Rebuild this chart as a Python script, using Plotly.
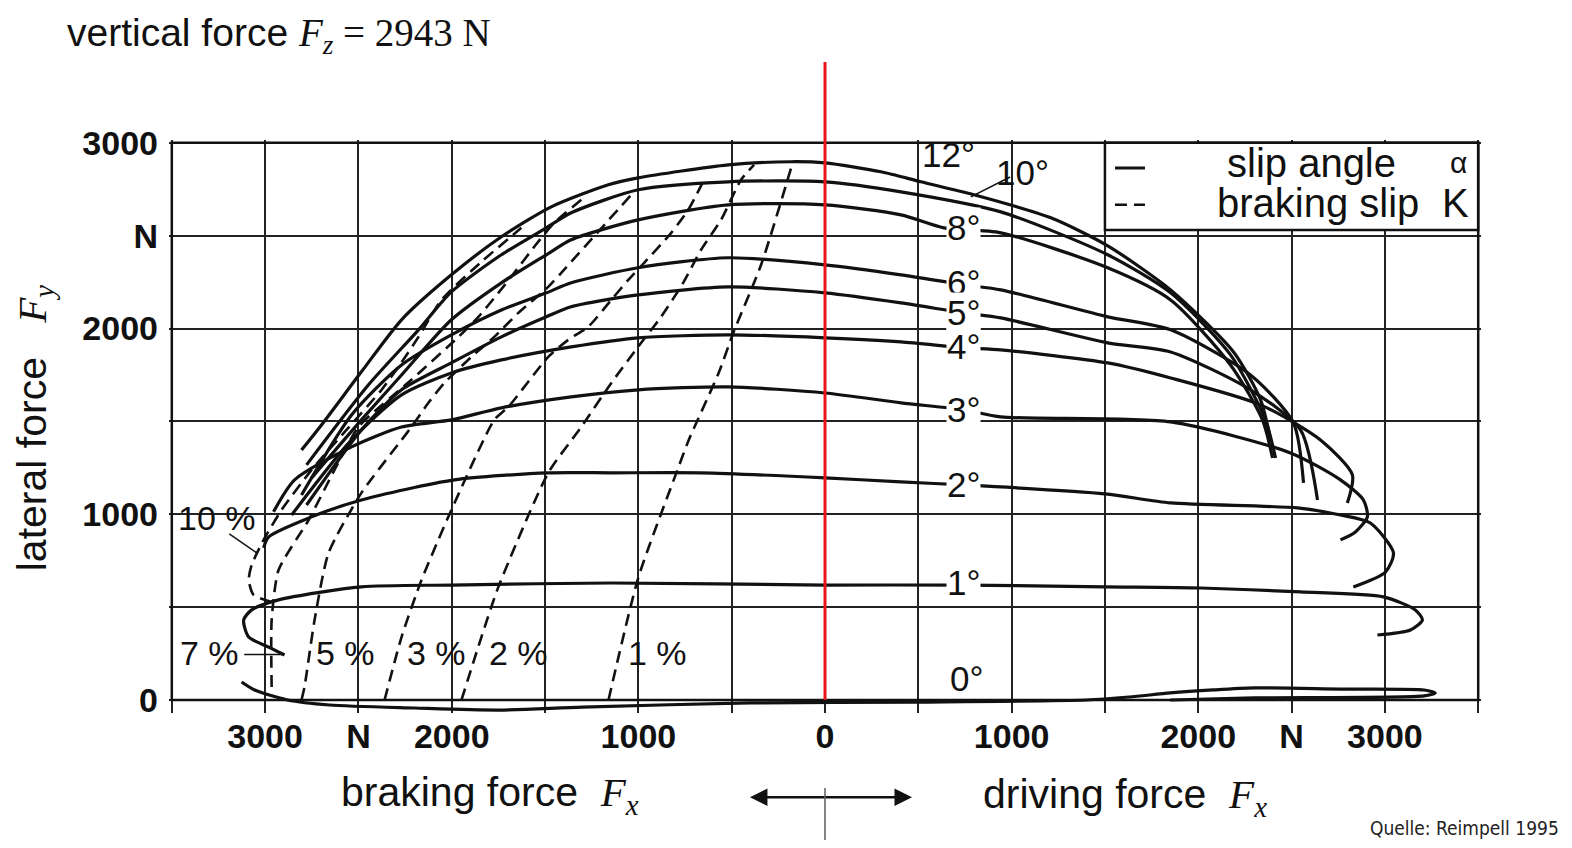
import plotly.graph_objects as go

# ---------------- data ----------------
# slip angle curves (solid): lateral force Fy vs longitudinal force Fx [N]
a0_x = [-3126, -3056, -2880, -2655, -2200, -1750, -1300, -400, 500, 1400, 1630, 1850, 2080, 2300, 2760, 3210, 3270, 3210, 2300, 1850]
a0_y = [97, 54, 0, -27, -43, -54, -38, -16, -11, 0, 16, 38, 54, 65, 59, 54, 38, 22, 11, 0]
a1_x = [-2896, -2981, -3088, -3115, -3072, -2928, -2484, -2002, -1145, 0, 744, 1499, 2013, 2548, 2992, 3163, 3201, 3137, 2960]
a1_y = [242, 285, 339, 431, 485, 539, 609, 619, 630, 619, 619, 609, 603, 582, 555, 485, 431, 377, 350]
a2_x = [-3008, -2981, -2751, -2484, -1986, -1483, -1145, -664, 0, 407, 744, 1499, 1852, 2532, 2762, 2922, 3046, 3003, 2831]
a2_y = [819, 878, 986, 1077, 1185, 1223, 1223, 1223, 1196, 1174, 1158, 1110, 1061, 1034, 996, 953, 792, 689, 609]
a3_x = [-2955, -2842, -2537, -2269, -2002, -1734, -1360, -1001, -519, 0, 407, 744, 942, 1852, 2494, 2762, 2885, 2906, 2842, 2762]
a3_y = [1013, 1185, 1363, 1470, 1508, 1573, 1632, 1670, 1686, 1653, 1600, 1562, 1524, 1497, 1330, 1185, 1077, 986, 905, 862]
a4_x = [-2858, -2537, -2269, -2002, -1734, -1360, -1001, -519, 0, 407, 744, 942, 1515, 1852, 2334, 2655, 2826, 2799]
a4_y = [996, 1400, 1643, 1761, 1831, 1901, 1950, 1966, 1950, 1928, 1896, 1885, 1815, 1734, 1589, 1400, 1212, 1061]
a5_x = [-2778, -2484, -2269, -2002, -1734, -1493, -1360, -1001, -519, 0, 407, 744, 942, 1515, 1852, 2280, 2548, 2639]
a5_y = [1050, 1454, 1670, 1815, 1955, 2063, 2117, 2181, 2224, 2192, 2138, 2084, 2057, 1923, 1874, 1670, 1454, 1077]
a6_x = [-2805, -2537, -2269, -2002, -1734, -1493, -1360, -1001, -519, 0, 407, 744, 942, 1515, 1852, 2280, 2510, 2564]
a6_y = [1104, 1535, 1804, 1966, 2100, 2192, 2246, 2327, 2381, 2343, 2289, 2235, 2208, 2063, 1993, 1750, 1492, 1169]
a8_x = [-2751, -2484, -2269, -2002, -1734, -1493, -1360, -1001, -519, 0, 407, 637, 942, 1515, 1852, 2173, 2344, 2398]
a8_y = [1196, 1508, 1750, 2047, 2246, 2397, 2478, 2585, 2666, 2666, 2612, 2542, 2515, 2327, 2154, 1804, 1508, 1303]
a10_x = [-2778, -2446, -2178, -2002, -1734, -1493, -1360, -1001, -519, 0, 407, 942, 1515, 1852, 2173, 2360, 2414]
a10_y = [1266, 1697, 1993, 2197, 2397, 2542, 2623, 2747, 2790, 2790, 2736, 2628, 2397, 2192, 1858, 1508, 1303]
a12_x = [-2805, -2698, -2484, -2269, -2002, -1734, -1467, -1161, -1001, -519, -182, 0, 300, 514, 798, 1210, 1515, 1852, 2189, 2334, 2387]
a12_y = [1346, 1481, 1767, 2047, 2289, 2494, 2655, 2774, 2811, 2881, 2898, 2892, 2844, 2790, 2720, 2596, 2445, 2208, 1874, 1616, 1400]

# braking slip curves (dashed)
k1_x = [-1160, -1000, -790, -730, -570, -490, -340, -180]
k1_y = [0, 660, 1240, 1400, 1760, 1980, 2350, 2870]
k2_x = [-1948, -1841, -1750, -1483, -1306, -1145, -985, -878, -760, -664, -557, -450, -380]
k2_y = [0, 339, 609, 1223, 1470, 1707, 1923, 2063, 2246, 2424, 2585, 2801, 2881]
k3_x = [-2360, -2269, -2162, -2002, -1772, -1697, -1483, -1376, -1269, -1145, -1054, -969, -824, -733, -648]
k3_y = [0, 339, 646, 1023, 1508, 1578, 1847, 1939, 2009, 2154, 2262, 2354, 2515, 2639, 2801]
k5_x = [-2805, -2789, -2735, -2660, -2484, -2269, -2216, -2125, -2039, -1895, -1772, -1643, -1483, -1413, -1038]
k5_y = [0, 70, 431, 792, 1115, 1400, 1470, 1600, 1707, 1847, 1955, 2084, 2224, 2300, 2720]
k7_x = [-2965, -2965, -2928, -2767, -2628, -2500, -2216, -1964, -1857, -1750, -1665, -1558, -1451, -1306]
k7_y = [70, 431, 700, 969, 1239, 1470, 1724, 1955, 2063, 2192, 2300, 2440, 2569, 2693]
k10_x = [-2965, -3062, -3088, -3072, -3008, -2912, -2751, -2564, -2376, -2286, -2178, -2055, -1841, -1627]
k10_y = [528, 566, 646, 727, 862, 1023, 1239, 1454, 1670, 1793, 1955, 2154, 2359, 2542]

angle_labels = ["12°", "10°", "8°", "6°", "5°", "4°", "3°", "2°", "1°", "0°"]
angle_label_x = [664, 1060, 744, 744, 744, 744, 744, 744, 744, 760]
angle_label_y = [2935, 2840, 2542, 2246, 2084, 1901, 1562, 1158, 630, 118]

slip_labels = ["10 %", "7 %", "5 %", "3 %", "2 %", "1 %"]
slip_label_x = [-3260, -3297, -2569, -2082, -1643, -899]
slip_label_y = [980, 253, 253, 253, 253, 253]

legend_names = ["slip angle", "braking slip"]
legend_symbols = ["α", "K"]
legend_name_x = [2607, 2644]
legend_symbol_x = [3393, 3377]
legend_row_y = [2892, 2677]

x_tick_vals = [-3500, -3000, -2500, -2000, -1500, -1000, -500, 0, 500, 1000, 1500, 2000, 2500, 3000, 3500]
x_tick_text = ["", "3000", "N", "2000", "", "1000", "", "0", "", "1000", "", "2000", "N", "3000", ""]
y_tick_vals = [0, 500, 1000, 1500, 2000, 2500, 3000]
y_tick_text = ["0", "", "1000", "", "2000", "N", "3000"]

angle_curves = [(a0_x, a0_y), (a1_x, a1_y), (a2_x, a2_y), (a3_x, a3_y), (a4_x, a4_y),
                (a5_x, a5_y), (a6_x, a6_y), (a8_x, a8_y), (a10_x, a10_y), (a12_x, a12_y)]
slip_curves = [(k1_x, k1_y), (k2_x, k2_y), (k3_x, k3_y), (k5_x, k5_y), (k7_x, k7_y), (k10_x, k10_y)]

# ---------------- figure ----------------
SANS = "Liberation Sans, Arial, sans-serif"
NARROW = "Liberation Sans Narrow, Arial Narrow, DejaVu Sans Condensed, sans-serif"
SERIF = "Liberation Serif, Times New Roman, serif"
NB = "\u00a0"

fig = go.Figure()
for i, (xs, ys) in enumerate(angle_curves):
    fig.add_trace(go.Scatter(
        x=xs, y=ys, mode="lines",
        line=dict(color="#111111", width=3.2, shape="spline", smoothing=0.7),
        name=NB, legendgroup="angle",
        showlegend=(i == 0), hoverinfo="skip"))
for i, (xs, ys) in enumerate(slip_curves):
    fig.add_trace(go.Scatter(
        x=xs, y=ys, mode="lines",
        line=dict(color="#111111", width=2.6, dash="12px,7px", shape="spline", smoothing=0.6),
        name=NB, legendgroup="slip",
        showlegend=(i == 0), hoverinfo="skip"))

annotations = []
for t, x, y in zip(angle_labels, angle_label_x, angle_label_y):
    annotations.append(dict(x=x, y=y, xref="x", yref="y", text=t, showarrow=False,
                            font=dict(family=SANS, size=35, color="#111"),
                            bgcolor="white" if t not in ("12°", "10°", "0°") else "rgba(0,0,0,0)",
                            borderpad=0))
for t, x, y in zip(slip_labels, slip_label_x, slip_label_y):
    annotations.append(dict(x=x, y=y, xref="x", yref="y", text=t, showarrow=False,
                            font=dict(family=SANS, size=34, color="#111")))
for t, x, y in zip(legend_names, legend_name_x, legend_row_y):
    annotations.append(dict(x=x, y=y, xref="x", yref="y", text=t, showarrow=False,
                            font=dict(family=SANS, size=40, color="#111")))
for t, x, y in zip(legend_symbols, legend_symbol_x, legend_row_y):
    annotations.append(dict(x=x, y=y, xref="x", yref="y", text=t, showarrow=False,
                            font=dict(family=SANS, size=40 if t == "K" else 30, color="#111")))
# leader lines
annotations.append(dict(x=781, y=2709, xref="x", yref="y", ax=1000, ay=2820, axref="x", ayref="y",
                        text="", showarrow=True, arrowhead=0, arrowwidth=1.5, arrowcolor="#111"))
annotations.append(dict(x=-3045, y=792, xref="x", yref="y", ax=-3200, ay=900, axref="x", ayref="y",
                        text="", showarrow=True, arrowhead=0, arrowwidth=1.5, arrowcolor="#111"))
annotations.append(dict(x=-2900, y=245, xref="x", yref="y", ax=-3120, ay=245, axref="x", ayref="y",
                        text="", showarrow=True, arrowhead=0, arrowwidth=1.5, arrowcolor="#111"))

# title & axis texts
annotations.append(dict(x=-0.0793, y=1.183, xref="paper", yref="paper", xanchor="left", yanchor="middle",
                        text="vertical force <span style='font-family:" + SERIF + "'><i>F</i><sub><i>z</i></sub> = 2943 N</span>",
                        showarrow=False, font=dict(family=SANS, size=39, color="#111")))
annotations.append(dict(x=-0.1021, y=0.497, xref="paper", yref="paper", textangle=-90,
                        xanchor="center", yanchor="middle",
                        text="lateral force" + NB * 3 + "<span style='font-family:" + SERIF + "'><i>F<sub>y</sub></i></span>",
                        showarrow=False, font=dict(family=SANS, size=41, color="#111")))
annotations.append(dict(x=0.2447, y=-0.143, xref="paper", yref="paper", xanchor="center", yanchor="middle",
                        text="braking force" + NB * 2 + "<span style='font-family:" + SERIF + "'><i>F<sub>x</sub></i></span>",
                        showarrow=False, font=dict(family=SANS, size=41, color="#111")))
annotations.append(dict(x=0.7287, y=-0.146, xref="paper", yref="paper", xanchor="center", yanchor="middle",
                        text="driving force" + NB * 2 + "<span style='font-family:" + SERIF + "'><i>F<sub>x</sub></i></span>",
                        showarrow=False, font=dict(family=SANS, size=41, color="#111")))
annotations.append(dict(x=0.5663, y=-0.147, xref="paper", yref="paper", ax=-88, ay=0,
                        text="", showarrow=True, arrowhead=2, arrowsize=1.4, arrowwidth=2.5, arrowcolor="#111"))
annotations.append(dict(x=0.4428, y=-0.147, xref="paper", yref="paper", ax=76, ay=0,
                        text="", showarrow=True, arrowhead=2, arrowsize=1.4, arrowwidth=2.5, arrowcolor="#111"))
annotations.append(dict(x=0.9878, y=-0.2007, xref="paper", yref="paper", xanchor="center", yanchor="middle",
                        text="Quelle: Reimpell 1995", showarrow=False,
                        font=dict(family=NARROW, size=19, color="#222")))

shapes = [
    # legend box
    dict(type="rect", xref="x", yref="y", x0=1500, x1=3500, y0=2530, y1=3000,
         fillcolor="white", line=dict(color="#111", width=2.5), layer="above"),
    # chart frame
    dict(type="rect", xref="x", yref="y", x0=-3500, x1=3500, y0=0, y1=3000,
         line=dict(color="#111", width=2.5), layer="above"),
    # red zero line
    dict(type="line", xref="x", yref="paper", x0=0, x1=0, y0=0.0227, y1=1.136,
         line=dict(color="#e8141b", width=3), layer="above"),
    # divider below the axis
    dict(type="line", xref="x", yref="paper", x0=0, x1=0, y0=-0.1309, y1=-0.2356,
         line=dict(color="#333", width=1.2)),
]

# the page body adds an 8px margin, so the figure is 16px smaller than the window
fig.update_layout(
    width=1556, height=832, autosize=False,
    margin=dict(l=161, r=83, t=132, b=127, pad=0),
    paper_bgcolor="white", plot_bgcolor="white",
    annotations=annotations, shapes=shapes,
    legend=dict(x=0.7172, y=0.992, xanchor="left", yanchor="top",
                bgcolor="rgba(0,0,0,0)", borderwidth=0, tracegroupgap=0,
                font=dict(family=SANS, size=26, color="#111"), itemwidth=30),
    xaxis=dict(range=[-3515, 3515], tickvals=x_tick_vals, ticktext=x_tick_text, automargin=False,
               showgrid=True, gridcolor="#222", gridwidth=2, zeroline=False, showline=False,
               ticks="", tickfont=dict(family=SANS, size=34, color="#111", weight="bold")),
    yaxis=dict(range=[-70, 3015], tickvals=y_tick_vals, ticktext=y_tick_text, automargin=False,
               showgrid=True, gridcolor="#222", gridwidth=2, zeroline=False, showline=False,
               ticks="", ticklabelstandoff=10, tickfont=dict(family=SANS, size=34, color="#111", weight="bold")),
)

fig.write_html("out.html")
